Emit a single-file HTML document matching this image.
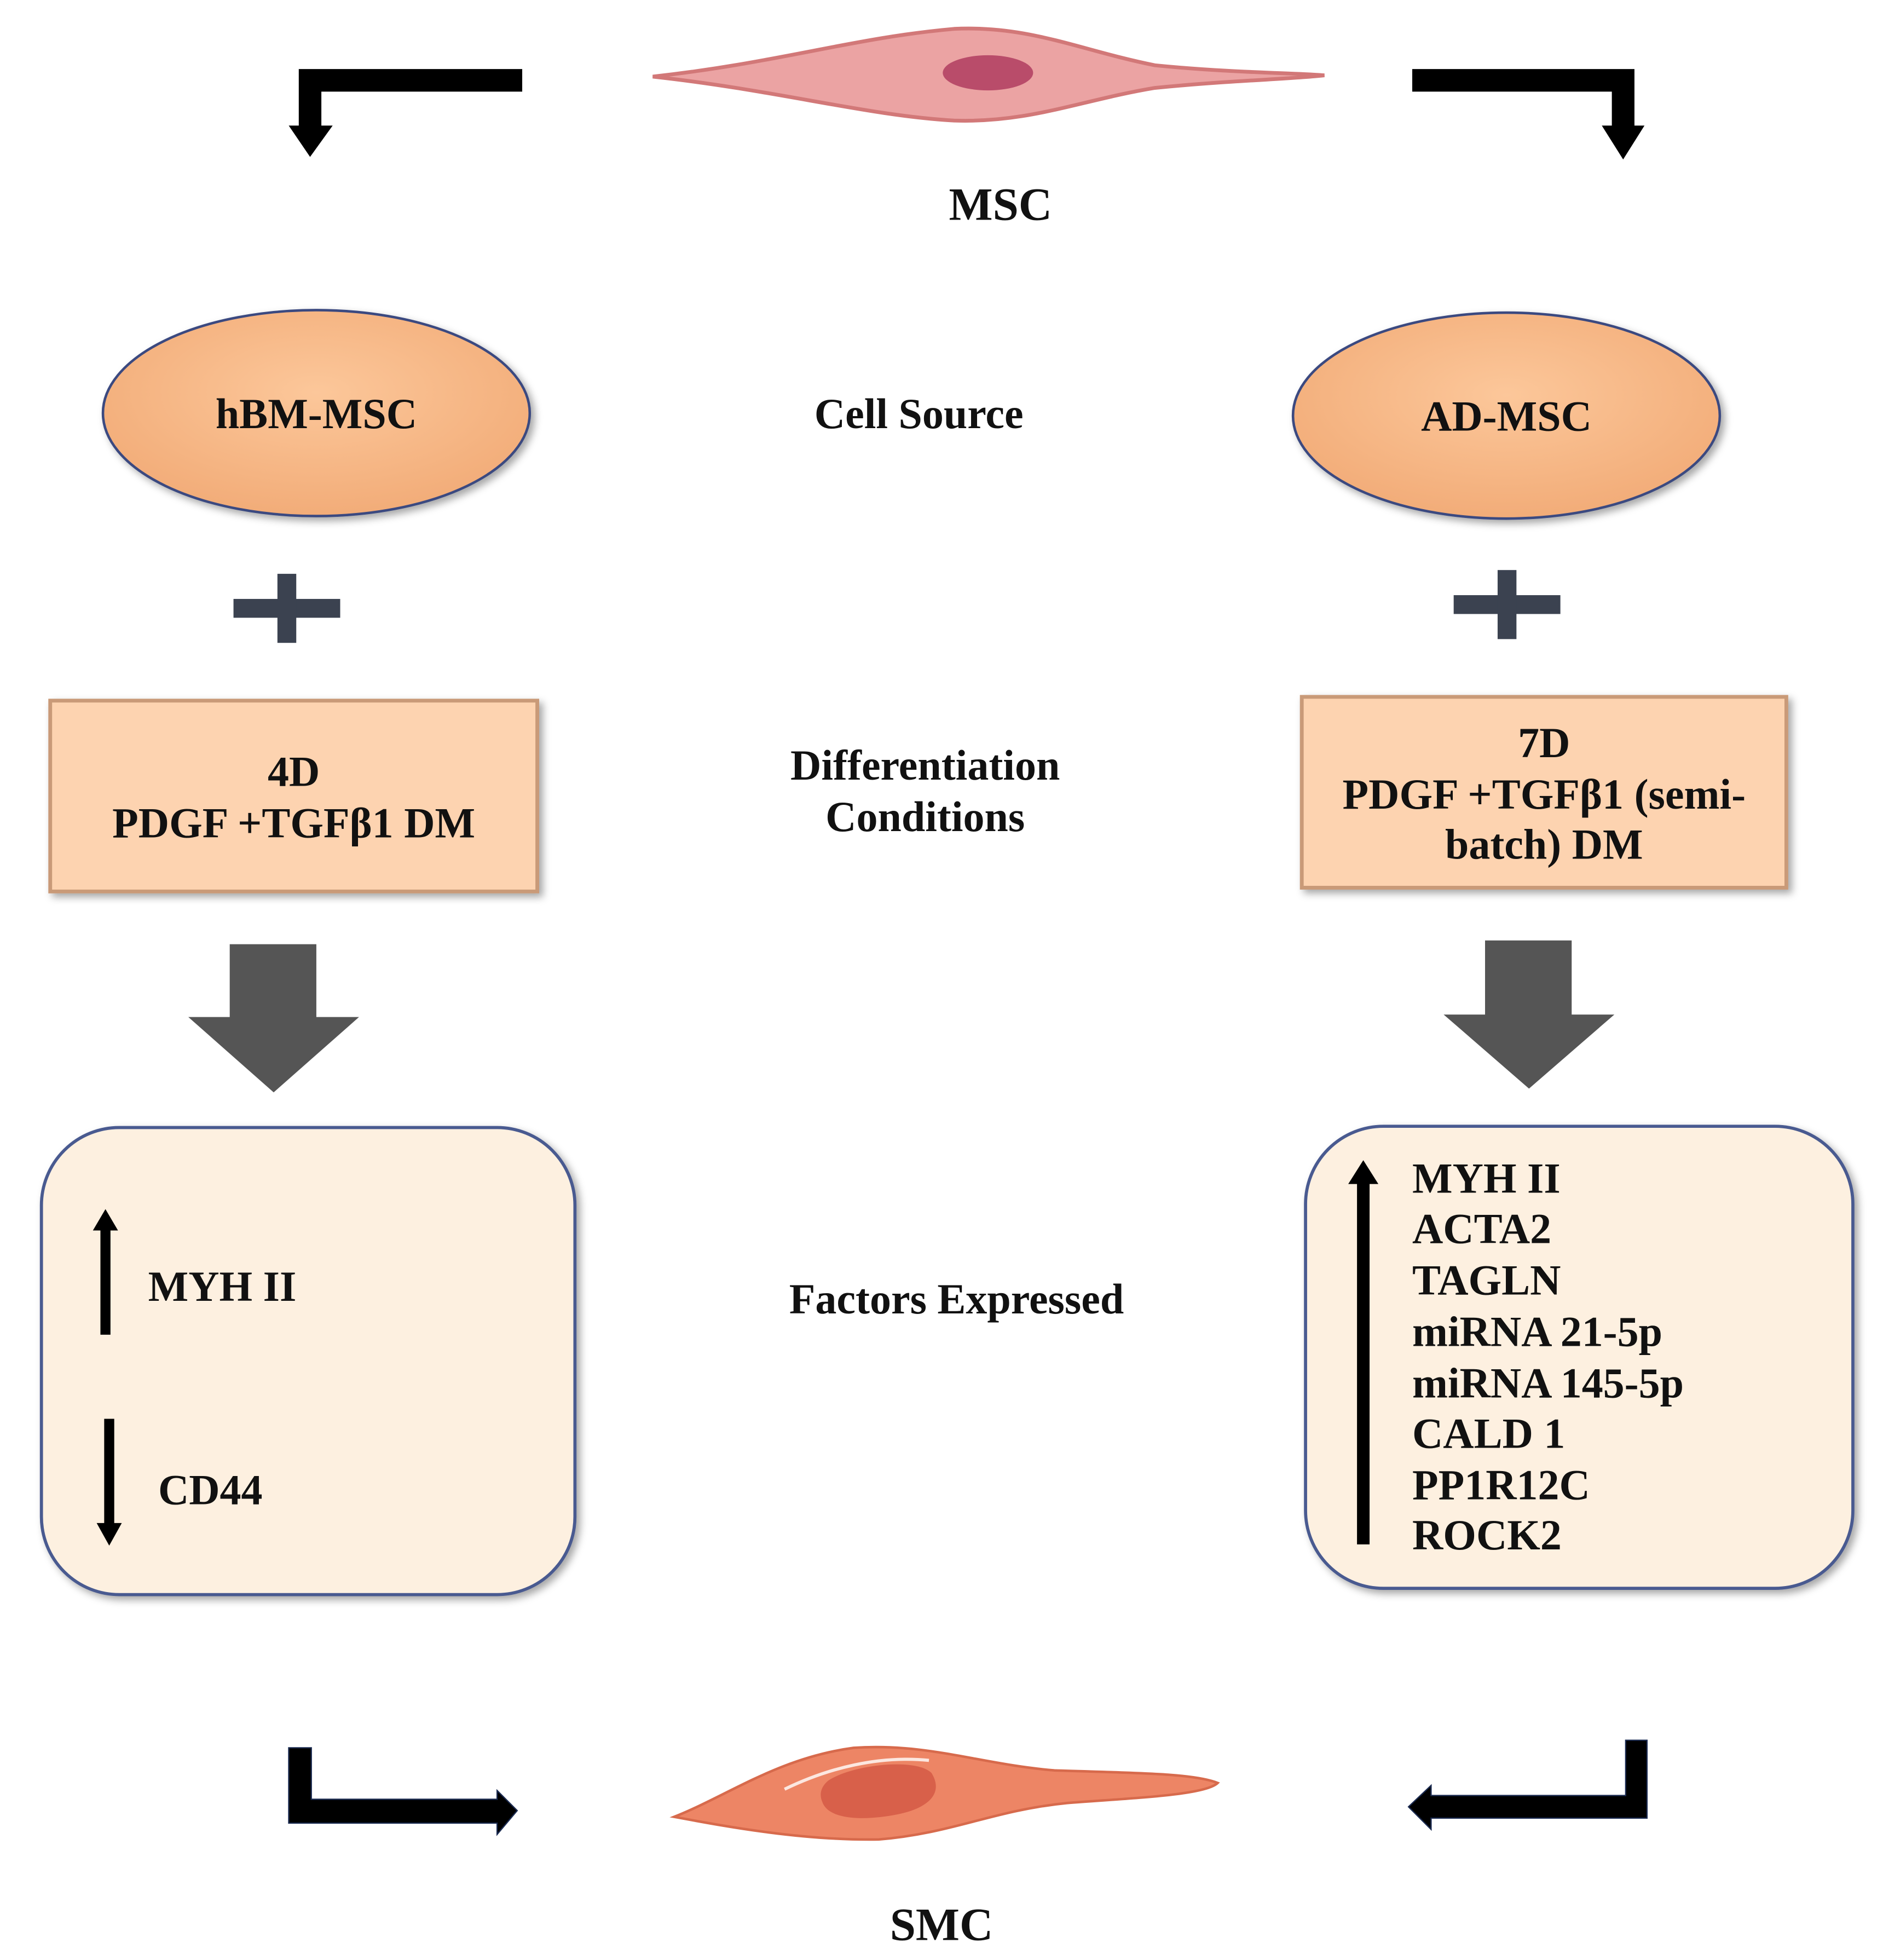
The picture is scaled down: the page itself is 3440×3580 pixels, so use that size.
<!DOCTYPE html>
<html><head><meta charset="utf-8"><style>
html,body{margin:0;padding:0;background:#fff;}
svg{display:block;}
text{font-family:"Liberation Serif",serif;font-weight:bold;fill:#111;}
</style></head><body>
<svg width="3440" height="3580" viewBox="0 0 1500 1561" preserveAspectRatio="none" xmlns="http://www.w3.org/2000/svg">
<defs>
<radialGradient id="eg" cx="50%" cy="40%" r="60%"><stop offset="0" stop-color="#fcc79a"/><stop offset="1" stop-color="#f2ac78"/></radialGradient>
<filter id="sh" x="-10%" y="-10%" width="130%" height="130%"><feDropShadow dx="3" dy="3" stdDeviation="3" flood-color="#000" flood-opacity="0.35"/></filter>
</defs>
<path d="M520,61 C620,50 680,30 760,23 C820,20 860,40 920,52 C980,58 1030,58 1055,60 C1030,63 980,64 920,70 C860,80 820,98 760,96 C690,92 620,72 520,61 Z" fill="#eba3a3" stroke="#d27878" stroke-width="3"/>
<ellipse cx="787" cy="58" rx="36" ry="14" fill="#b94c6a"/>
<path d="M416,55 H238 V100 H230 L247,125 L265,100 H256 V73 H416 Z" fill="#000"/>
<path d="M1125,55 H1302 V100 H1310 L1293,127 L1276,100 H1284 V73 H1125 Z" fill="#000"/>
<text x="797" y="175" font-size="37" text-anchor="middle">MSC</text>
<ellipse cx="252" cy="329" rx="170" ry="82" fill="url(#eg)" stroke="#3a4a80" stroke-width="2" filter="url(#sh)"/>
<ellipse cx="1200" cy="331" rx="170" ry="82" fill="url(#eg)" stroke="#3a4a80" stroke-width="2" filter="url(#sh)"/>
<text x="252" y="341" font-size="34" text-anchor="middle">hBM-MSC</text>
<text x="1200" y="343" font-size="34" text-anchor="middle">AD-MSC</text>
<text x="732" y="341" font-size="34" text-anchor="middle">Cell Source</text>
<g fill="#3b4250">
<rect x="186" y="477" width="85" height="15"/><rect x="221" y="457" width="15" height="55"/>
<rect x="1158" y="474" width="85" height="15"/><rect x="1193" y="454" width="15" height="55"/>
</g>
<rect x="40" y="558" width="388" height="152" fill="#fdd3b0" stroke="#c99a78" stroke-width="3" filter="url(#sh)"/>
<rect x="1037" y="555" width="386" height="152" fill="#fdd3b0" stroke="#c99a78" stroke-width="3" filter="url(#sh)"/>
<text x="234" y="626" font-size="34" text-anchor="middle">4D</text>
<text x="234" y="667" font-size="34" text-anchor="middle">PDGF +TGFβ1 DM</text>
<text x="1230" y="603" font-size="34" text-anchor="middle">7D</text>
<text x="1230" y="644" font-size="34" text-anchor="middle">PDGF +TGFβ1 (semi-</text>
<text x="1230" y="684" font-size="34" text-anchor="middle">batch) DM</text>
<text x="737" y="621" font-size="34" text-anchor="middle">Differentiation</text>
<text x="737" y="662" font-size="34" text-anchor="middle">Conditions</text>
<path d="M183,752 H252 V810 H286 L218,870 L150,810 H183 Z" fill="#555"/>
<path d="M1183,749 H1252 V808 H1286 L1218,867 L1150,808 H1183 Z" fill="#555"/>
<rect x="33" y="898" width="425" height="372" rx="62" fill="#fdf0e0" stroke="#4a5a90" stroke-width="2.5" filter="url(#sh)"/>
<rect x="1040" y="897" width="436" height="368" rx="62" fill="#fdf0e0" stroke="#4a5a90" stroke-width="2.5" filter="url(#sh)"/>
<path d="M80,1063 V980 H74 L84,963 L94,980 H88 V1063 Z" fill="#000"/>
<path d="M83,1130 V1213 H77 L87,1231 L97,1213 H91 V1130 Z" fill="#000"/>
<text x="118" y="1036" font-size="34">MYH II</text>
<text x="126" y="1198" font-size="34">CD44</text>
<path d="M1081,1230 V943 H1074 L1086,924 L1098,943 H1091 V1230 Z" fill="#000"/>
<g font-size="34">
<text x="1125" y="950">MYH II</text>
<text x="1125" y="990">ACTA2</text>
<text x="1125" y="1031">TAGLN</text>
<text x="1125" y="1072">miRNA 21-5p</text>
<text x="1125" y="1113">miRNA 145-5p</text>
<text x="1125" y="1153">CALD 1</text>
<text x="1125" y="1194">PP1R12C</text>
<text x="1125" y="1234">ROCK2</text>
</g>
<text x="762" y="1046" font-size="34" text-anchor="middle">Factors Expressed</text>
<path d="M230,1392 H248 V1433 H396 V1426 L412,1442 L396,1461 V1452 H230 Z" fill="#000" stroke="#1a2a50" stroke-width="1"/>
<path d="M1312,1386 H1295 V1430 H1140 V1422 L1122,1439 L1140,1457 V1448 H1312 Z" fill="#000" stroke="#1a2a50" stroke-width="1"/>
<path d="M537,1447 C580,1430 620,1400 680,1392 C740,1388 780,1405 840,1410 C900,1412 950,1412 970,1420 C960,1430 900,1432 850,1436 C790,1442 760,1460 700,1465 C640,1466 580,1455 537,1447 Z" fill="#ed8565" stroke="#d76a4c" stroke-width="2"/>
<path d="M660,1418 C680,1405 730,1400 742,1412 C752,1428 740,1440 715,1445 C690,1450 660,1450 655,1435 C652,1428 655,1422 660,1418 Z" fill="#d8604a"/>
<path d="M625,1425 C660,1408 700,1398 740,1402" fill="none" stroke="#fff" stroke-width="2.5" opacity="0.8"/>
<text x="750" y="1545" font-size="37" text-anchor="middle">SMC</text>
</svg>
</body></html>
